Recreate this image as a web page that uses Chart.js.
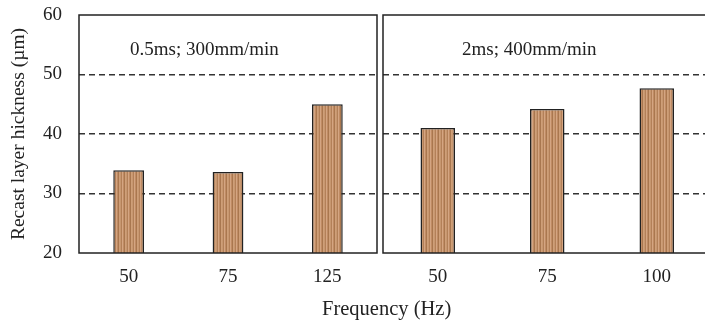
<!DOCTYPE html>
<html>
<head>
<meta charset="utf-8">
<script src="https://cdn.jsdelivr.net/npm/chart.js@4.4.1/dist/chart.umd.min.js"></script>
<style>
  body { margin: 0; background: #fff; }
  #wrap { position: relative; width: 705px; height: 322px; overflow: hidden; }
  canvas { position: absolute; top: 0; }
  #xtitle { position: absolute; top: 297px; left: 322px; font: 20.5px "Liberation Serif", serif; color: #222; white-space: nowrap; }
</style>
</head>
<body>
<div id="wrap">
  <canvas id="left" width="380" height="322" style="left:0"></canvas>
  <canvas id="right" width="340" height="322" style="left:380px"></canvas>
  <div id="xtitle">Frequency (Hz)</div>
</div>
<script>
// data
const leftLabels = ['50', '75', '125'];
const leftValues = [33.9, 33.6, 45.0];
const rightLabels = ['50', '75', '100'];
const rightValues = [41.0, 44.2, 47.7];
const panelTitles = ['0.5ms; 300mm/min', '2ms; 400mm/min'];
const yTitle = 'Recast layer hickness (\u00b5m)';

const FONT = '"Liberation Serif", serif';

// striped brown fill
function stripes() {
  const c = document.createElement('canvas');
  c.width = 6; c.height = 4;
  const g = c.getContext('2d');
  const cols = ['#c79770', '#b38058', '#d4a582', '#c08c64', '#a9774f', '#cf9f78'];
  cols.forEach((col, i) => { g.fillStyle = col; g.fillRect(i, 0, 1, 4); });
  return g.createPattern(c, 'repeat');
}
const fill = stripes();

// frame + panel label
const framePlugin = {
  id: 'frame',
  afterDatasetsDraw(chart, args, opts) {
    const a = chart.chartArea;
    const ctx = chart.ctx;
    ctx.save();
    ctx.strokeStyle = '#222';
    ctx.lineWidth = 1.5;
    ctx.strokeRect(a.left, a.top, a.right - a.left, a.bottom - a.top);
    ctx.fillStyle = '#222';
    ctx.font = '19px ' + FONT;
    ctx.textAlign = 'left';
    ctx.textBaseline = 'middle';
    ctx.fillText(opts.text, a.left + opts.dx, a.top + 35);
    ctx.restore();
  }
};

function makeChart(id, labels, values, barPct, showY, title, dx, pad) {
  return new Chart(document.getElementById(id), {
    type: 'bar',
    data: {
      labels: labels,
      datasets: [{
        data: values,
        backgroundColor: fill,
        borderColor: '#222',
        borderWidth: 1.5,
        barPercentage: barPct,
        categoryPercentage: 1
      }]
    },
    options: {
      responsive: false,
      animation: false,
      layout: { padding: pad },
      plugins: {
        legend: { display: false },
        tooltip: { enabled: false },
        frame: { text: title, dx: dx }
      },
      scales: {
        x: {
          grid: { display: false, drawTicks: false },
          border: { display: false },
          ticks: { padding: 13, color: '#222', font: { family: FONT, size: 19 } },
          afterFit: s => {
            s.height = 69 - pad.bottom;
            s.paddingLeft = 0; s.paddingRight = 0;
          }
        },
        y: {
          min: 20, max: 60,
          ticks: {
            display: showY, stepSize: 10, padding: 17,
            color: '#222', font: { family: FONT, size: 19 }
          },
          grid: {
            drawTicks: false,
            lineWidth: 1.5,
            color: c => (c.tick.value > 20 && c.tick.value < 60) ? '#333' : 'rgba(0,0,0,0)'
          },
          border: { display: false, dash: [6, 4] },
          title: {
            display: showY, text: yTitle, color: '#222',
            font: { family: FONT, size: 19.5 }, padding: { top: 7, bottom: 0 }
          },
          afterFit: s => {
            s.width = showY ? 79 - pad.left : 0;
            s.paddingTop = 0; s.paddingBottom = 0;
          }
        }
      }
    },
    plugins: [framePlugin]
  });
}

makeChart('left', leftLabels, leftValues, 0.31, true, panelTitles[0], 51,
  { left: 0, right: 3, top: 15, bottom: 0 });
makeChart('right', rightLabels, rightValues, 0.315, false, panelTitles[1], 79,
  { left: 3, right: 8.5, top: 15, bottom: 0 });
</script>
</body>
</html>
